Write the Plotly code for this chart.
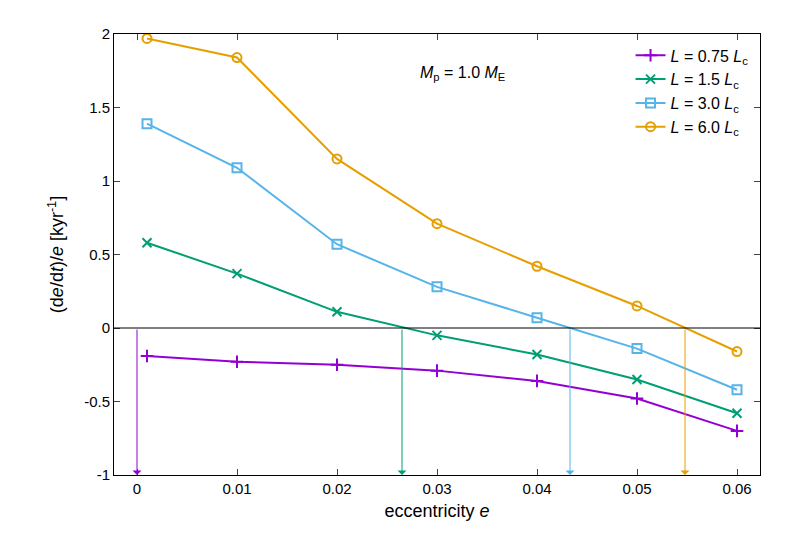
import plotly.graph_objects as go

ecc = [0.001, 0.01, 0.02, 0.03, 0.04, 0.05, 0.06]
rate_075 = [-0.19, -0.23, -0.25, -0.29, -0.36, -0.48, -0.70]
rate_15 = [0.58, 0.37, 0.11, -0.05, -0.18, -0.35, -0.58]
rate_30 = [1.39, 1.09, 0.57, 0.28, 0.07, -0.14, -0.42]
rate_60 = [1.97, 1.84, 1.15, 0.71, 0.42, 0.15, -0.16]
zero_cross = [0.0, 0.0265, 0.0433, 0.0548]
x_ticks = [0, 0.01, 0.02, 0.03, 0.04, 0.05, 0.06]
x_labels = ["0", "0.01", "0.02", "0.03", "0.04", "0.05", "0.06"]
y_ticks = [-1, -0.5, 0, 0.5, 1, 1.5, 2]
y_labels = ["-1", "-0.5", "0", "0.5", "1", "1.5", "2"]

names = ["<i>L</i> = 0.75 <i>L</i><sub>c</sub>", "<i>L</i> = 1.5 <i>L</i><sub>c</sub>",
         "<i>L</i> = 3.0 <i>L</i><sub>c</sub>", "<i>L</i> = 6.0 <i>L</i><sub>c</sub>"]
colors = ["#9400d3", "#009e73", "#56b4e9", "#e69f00"]
symbols = ["cross-thin", "x-thin", "square-open", "circle-open"]
series = [rate_075, rate_15, rate_30, rate_60]

fig = go.Figure()
for name, ys, c, s in zip(names, series, colors, symbols):
    fig.add_trace(go.Scatter(x=ecc, y=ys, name=name, mode="lines+markers",
                             line=dict(color=c, width=2),
                             marker=dict(symbol=s, size=9, color=c, line=dict(color=c, width=2))))

for xc, c in zip(zero_cross, colors):
    fig.add_annotation(x=xc, y=-1, ax=xc, ay=0, xref="x", yref="y", axref="x", ayref="y",
                       showarrow=True, arrowhead=1, arrowsize=1.5, arrowwidth=1, arrowcolor=c, text="")

fig.add_hline(y=0, line=dict(color="black", width=1))
fig.add_annotation(x=0.0325, y=1.73, xref="x", yref="y", showarrow=False,
                   text="<i>M</i><sub>p</sub> = 1.0 <i>M</i><sub>E</sub>", font=dict(size=16))

ax = dict(showline=True, linecolor="black", mirror="ticks", ticks="inside", ticklen=6,
          showgrid=False, zeroline=False)
fig.update_layout(
    width=789, height=539, plot_bgcolor="white", paper_bgcolor="white",
    margin=dict(l=106, r=37, t=26, b=72),
    font=dict(family="Liberation Sans, Arial", size=15, color="black"),
    xaxis=dict(range=[-0.0023, 0.0623], tickvals=x_ticks, ticktext=x_labels,
               title=dict(text="eccentricity <i>e</i>", standoff=8), **ax),
    yaxis=dict(range=[-1, 2], tickvals=y_ticks, ticktext=y_labels,
               title=dict(text="(d<i>e</i>/d<i>t</i>)/<i>e</i> [kyr<sup>-1</sup>]"), **ax),
    legend=dict(x=0.99, y=0.99, xanchor="right", yanchor="top", bgcolor="rgba(0,0,0,0)",
                font=dict(size=16)),
    showlegend=True,
)
fig.write_html("out.html")
